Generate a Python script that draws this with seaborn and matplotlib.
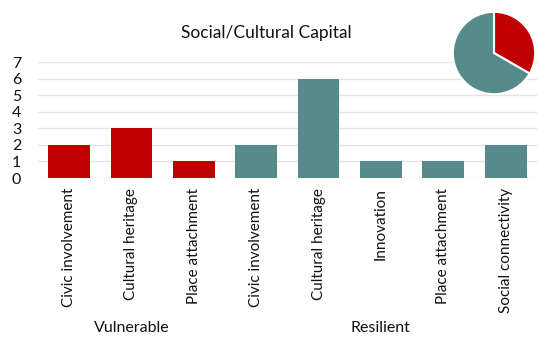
import matplotlib
matplotlib.use("Agg")
import matplotlib.pyplot as plt
import matplotlib.transforms as mtransforms
import seaborn as sns
import pandas as pd

groups = ["Vulnerable", "Vulnerable", "Vulnerable", "Resilient", "Resilient", "Resilient", "Resilient", "Resilient"]
categories = ["Civic involvement", "Cultural heritage", "Place attachment",
              "Civic involvement", "Cultural heritage", "Innovation",
              "Place attachment", "Social connectivity"]
values = [2, 3, 1, 2, 6, 1, 1, 2]
group_names = ["Vulnerable", "Resilient"]
colors = {"Vulnerable": "#C00000", "Resilient": "#568A8B"}

sns.set_theme(style="white")
plt.rcParams['font.family'] = ['Lato', 'DejaVu Sans']

df = pd.DataFrame({
    "key": [f"{g}|{c}" for g, c in zip(groups, categories)],
    "group": groups,
    "category": categories,
    "value": values,
})

fig = plt.figure(figsize=(5.5, 3.45), dpi=100)
ax = fig.add_axes([0.069, 0.484, 0.907, 0.336])
sns.barplot(data=df, x="key", y="value", hue="group", palette=colors,
            dodge=False, width=0.67, legend=False, ax=ax, saturation=1, linewidth=0)
ax.set_ylim(0, 7)
ax.set_yticks(range(0, 8))
ax.yaxis.grid(True, color="#E4E4E4", linewidth=1)
ax.set_axisbelow(True)
for s in ax.spines.values():
    s.set_visible(False)
ax.set_xlabel("")
ax.set_ylabel("")
ax.set_xticks(range(len(categories)))
ax.set_xticklabels(categories, rotation=90, fontsize=11, color="#111111")
ax.tick_params(axis="y", labelsize=11.5, colors="#111111", length=0, pad=12)
ax.tick_params(axis="x", length=0, pad=7)
ax.set_xlim(-0.5, len(categories) - 0.5)

# group labels
trans = mtransforms.blended_transform_factory(ax.transData, fig.transFigure)
for g in group_names:
    idx = [i for i, gg in enumerate(groups) if gg == g]
    xc = (min(idx) + max(idx)) / 2
    ax.text(xc, 1 - 328 / 345, g, transform=trans, ha="center", va="center",
            fontsize=11.5, color="#111111")

fig.text(266 / 550, 1 - 33 / 345, "Social/Cultural Capital", ha="center", va="center",
         fontsize=12.5, color="#111111")

# pie
totals = [sum(v for v, g in zip(values, groups) if g == name) for name in group_names]
pax = fig.add_axes([452 / 550, 1 - 95 / 345, 84 / 550, 84 / 345])
pax.pie(totals, colors=[colors[n] for n in group_names], startangle=90, counterclock=False,
        wedgeprops=dict(edgecolor="white", linewidth=1.5))
pax.set_xlim(-1.02, 1.02)
pax.set_ylim(-1.02, 1.02)
pax.set_aspect("equal")

fig.savefig("out.png", dpi=100)
